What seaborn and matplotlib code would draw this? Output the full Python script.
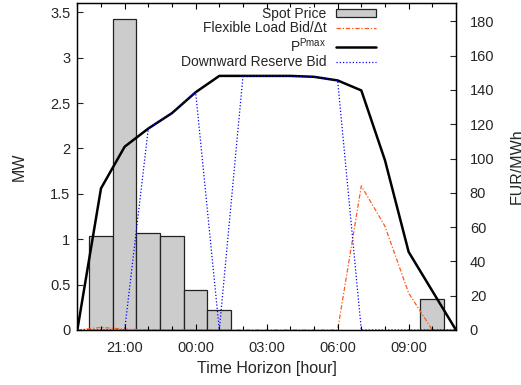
import matplotlib
matplotlib.use("Agg")
import matplotlib.pyplot as plt
import matplotlib.ticker as mticker
from matplotlib.patches import Patch
from matplotlib.lines import Line2D
import seaborn as sns

sns.set_style("white")
plt.rcParams['font.family'] = ['Liberation Sans', 'DejaVu Sans']
plt.rcParams['mathtext.fontset'] = 'custom'
plt.rcParams['mathtext.rm'] = 'Liberation Sans'
plt.rcParams['mathtext.it'] = 'Liberation Sans:italic'

# ---- data (hour index 0 = 19:00 ... 16 = 11:00) ----
hours = list(range(17))
pmax = [0, 1.56, 2.02, 2.22, 2.39, 2.62, 2.80, 2.80, 2.80, 2.80, 2.79, 2.75, 2.64, 1.87, 0.86, 0.43, 0]
reserve = [0, 0, 0, 2.22, 2.39, 2.62, 0, 2.80, 2.80, 2.80, 2.79, 2.75, 0, 0, 0, 0, 0]
flex_bid = [0, 1.5, 0.5, 0, 0, 0, 0, 0, 0, 0, 0, 0, 84, 60.5, 21.5, 0, 0]   # EUR/MWh
bar_hours = [1, 2, 3, 4, 5, 6, 15]
spot_price = [55.0, 181.3, 56.4, 55.0, 23.3, 11.5, 18.1]                  # EUR/MWh
tick_hours = [2, 5, 8, 11, 14]
tick_labels = ["21:00", "00:00", "03:00", "06:00", "09:00"]

BAR_FACE = '#cccccc'
BAR_EDGE = '#222222'
ORANGE = '#ff5a1e'
BLUE = '#0000ff'
DASHDOT = (0, (3.5, 1.5, 1, 1.5))
DOTTED = (0, (1, 1.6))

fig = plt.figure(figsize=(5.21, 3.85), dpi=100)
ax = fig.add_axes([0.1484, 0.1429, 0.7268, 0.8485])
ax2 = ax.twinx()

# right axis: spot price bars and flexible load bid
sns.barplot(x=bar_hours, y=spot_price, native_scale=True, ax=ax2, color=BAR_FACE,
            saturation=1, edgecolor=BAR_EDGE, linewidth=0.9, width=1, errorbar=None)
sns.lineplot(x=hours, y=flex_bid, ax=ax2, color=ORANGE, linewidth=0.9,
             linestyle=DASHDOT, zorder=5)

# left axis: P^Pmax and downward reserve bid
sns.lineplot(x=hours, y=pmax, ax=ax, color='black', linewidth=1.8, zorder=4)
sns.lineplot(x=hours, y=reserve, ax=ax, color=BLUE, linewidth=0.9,
             linestyle=DOTTED, zorder=5)

ax.set_zorder(ax2.get_zorder() + 1)
ax.patch.set_visible(False)

ax.set_xlim(0, 16)
ax.set_ylim(0, 3.6)
ax2.set_ylim(0, 190.5)
ax2.set_xlim(0, 16)

ax.xaxis.set_major_locator(mticker.FixedLocator(tick_hours))
ax.xaxis.set_major_formatter(mticker.FixedFormatter(tick_labels))
ax.xaxis.set_minor_locator(mticker.MultipleLocator(1))
ax.yaxis.set_major_locator(mticker.MultipleLocator(0.5))
ax.yaxis.set_major_formatter(mticker.FuncFormatter(lambda v, p: f"{v:g}"))
ax2.yaxis.set_major_locator(mticker.MultipleLocator(20))
ax2.yaxis.set_major_formatter(mticker.FuncFormatter(lambda v, p: f"{v:g}"))

TICK_FS = 10.5
LABEL_FS = 11.5
ax.tick_params(axis='x', which='both', direction='in', top=True, bottom=True,
               labelsize=TICK_FS, color='black', width=0.8, pad=8)
ax.tick_params(axis='x', which='major', length=4)
ax.tick_params(axis='x', which='minor', length=3)
ax.tick_params(axis='y', direction='in', left=True, right=False, length=4,
               width=0.8, labelsize=TICK_FS, pad=5)
ax2.tick_params(axis='y', direction='in', right=True, left=False, length=4,
                width=0.8, labelsize=TICK_FS, pad=10)
ax2.tick_params(axis='x', which='both', bottom=False, top=False, labelbottom=False)

for a in (ax, ax2):
    for s in a.spines.values():
        s.set_color('black')
        s.set_linewidth(0.9)

ax.set_xlabel("Time Horizon [hour]", fontsize=LABEL_FS, labelpad=4)
ax.set_ylabel("MW", fontsize=LABEL_FS, labelpad=17)
ax2.set_ylabel("EUR/MWh", fontsize=LABEL_FS, labelpad=11)
ax2.set_xlabel("")

if ax2.get_legend():
    ax2.get_legend().remove()

handles = [
    Patch(facecolor=BAR_FACE, edgecolor=BAR_EDGE, linewidth=0.9),
    Line2D([], [], color=ORANGE, linewidth=0.9, linestyle=DASHDOT),
    Line2D([], [], color='black', linewidth=1.8),
    Line2D([], [], color=BLUE, linewidth=0.9, linestyle=DOTTED),
]
labels = ["Spot Price", "Flexible Load Bid/\u0394t", r"P$^{\mathrm{Pmax}}$", "Downward Reserve Bid"]
leg = ax.legend(handles, labels, loc='upper right', bbox_to_anchor=(0.79, 0.99),
                frameon=False, markerfirst=False, fontsize=10, handlelength=2.9,
                handleheight=0.5, labelspacing=0.05, handletextpad=0.7,
                borderaxespad=0, borderpad=0)
for col in leg._legend_handle_box.get_children():
    col.align = 'right'

fig.savefig("out.png", dpi=100)
